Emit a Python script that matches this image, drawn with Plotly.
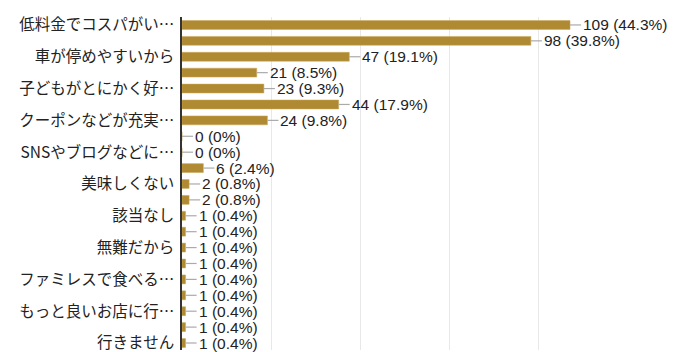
import plotly.graph_objects as go

# Category labels (only every other label is shown in the reference)
labels = [
    "低料金でコスパがい…", "", "車が停めやすいから", "", "子どもがとにかく好…", "",
    "クーポンなどが充実…", "", "SNSやブログなどに…", "", "美味しくない", "",
    "該当なし", "", "無難だから", "", "ファミレスで食べる…", "",
    "もっと良いお店に行…", "", "行きません",
]
counts = [109, 98, 47, 21, 23, 44, 24, 0, 0, 6, 2, 2, 1, 1, 1, 1, 1, 1, 1, 1, 1]
percents = ["44.3%", "39.8%", "19.1%", "8.5%", "9.3%", "17.9%", "9.8%", "0%", "0%",
            "2.4%", "0.8%", "0.8%", "0.4%", "0.4%", "0.4%", "0.4%", "0.4%", "0.4%",
            "0.4%", "0.4%", "0.4%"]

positions = list(range(len(counts)))
BAR_COLOR = "#b08a33"
LEADER = 3.1  # leader line length in data units

fig = go.Figure()
fig.add_trace(go.Bar(
    x=counts, y=positions, orientation="h",
    marker=dict(color=BAR_COLOR, line=dict(color="#c9a85a", width=0.5)),
    width=0.56,
    error_x=dict(type="data", symmetric=False, array=[LEADER] * len(counts),
                 arrayminus=[0] * len(counts), color="#aaaaaa", thickness=1.2, width=0),
    hoverinfo="skip",
))

for p, c, pc in zip(positions, counts, percents):
    fig.add_annotation(
        x=c + LEADER, y=p, xref="x", yref="y", text=f"{c} ({pc})",
        showarrow=False, xanchor="left", yanchor="middle", xshift=0,
        font=dict(family="Liberation Sans, Arial, sans-serif", size=15.5, color="#222222"),
    )

shown = [i for i, l in enumerate(labels) if l]
fig.update_layout(
    width=700, height=352,
    margin=dict(l=182, r=73, t=17, b=0),
    paper_bgcolor="white", plot_bgcolor="white",
    showlegend=False,
    bargap=0.44,
    xaxis=dict(range=[0, 125], tickvals=[0, 25, 50, 75, 100, 125], showticklabels=False,
               showgrid=True, gridcolor="#e8e8e8", gridwidth=1, zeroline=False,
               showline=False, fixedrange=True),
    yaxis=dict(range=[20.44, -0.5], tickvals=shown, ticktext=[labels[i] for i in shown],
               showgrid=False, zeroline=False, showline=True, linecolor="#333333",
               linewidth=1.5, ticks="", ticklabelstandoff=3, ticklabeloverflow="allow",
               tickfont=dict(family="Noto Sans CJK JP, sans-serif", size=15.5, color="#222222")),
)

fig.write_html("out.html")
